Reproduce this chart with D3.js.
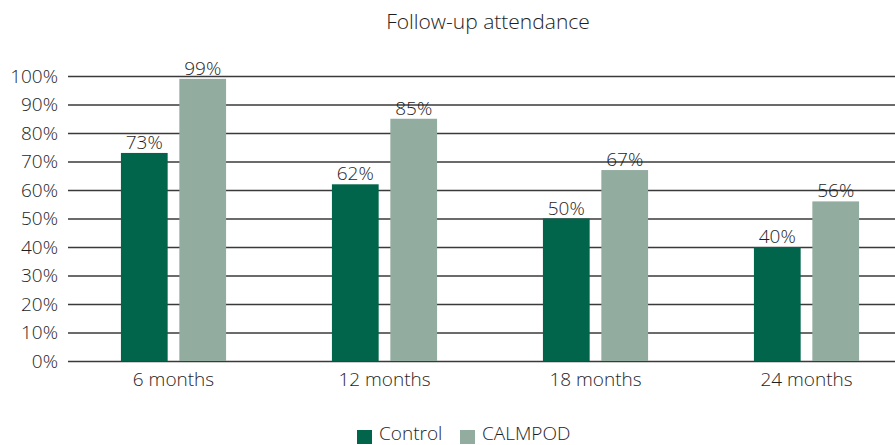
<!DOCTYPE html>
<html><head><meta charset="utf-8">
<script src="https://cdn.jsdelivr.net/npm/d3@7"></script>
<style>body{margin:0;background:#fff;} text{font-family:"Open Sans",sans-serif;font-weight:300;fill:#1e1e1e;}</style>
</head><body><svg id="c" width="895" height="445"></svg>
<script>
const categories = ["6 months","12 months","18 months","24 months"];
const seriesNames = ["Control","CALMPOD"];
const control = [73,62,50,40];
const calmpod = [99,85,67,56];
const yTicks = [0,10,20,30,40,50,60,70,80,90,100];
const colors = ["#00654a","#92ada0"];

const FS = "19px";
const svg = d3.select("#c");
const mLeft = 68, mRight = 912, mTop = 76, mBottom = 361;
const x = d3.scaleBand().domain(categories).range([mLeft,mRight]).paddingInner(0).paddingOuter(0);
const y = d3.scaleLinear().domain([0,100]).range([mBottom,mTop]);
const xs = d3.scaleBand().domain(seriesNames).range([0,x.bandwidth()]).paddingInner(0.2).paddingOuter(0.906);

svg.append("text").attr("x",488).attr("y",29).attr("text-anchor","middle").style("font-size","21px").text("Follow-up attendance");

const yAxis = svg.append("g").attr("transform",`translate(${mLeft},0)`)
  .call(d3.axisLeft(y).tickValues(yTicks).tickFormat(d=>d+"%").tickSize(-(895-mLeft)).tickPadding(10));
yAxis.select(".domain").remove();
yAxis.selectAll(".tick line").attr("stroke","#3a3a3a").attr("stroke-width",1.4);
yAxis.selectAll(".tick text").style("font-size",FS);

const data = categories.map((c,i)=>({c, vals:[control[i],calmpod[i]]}));
const g = svg.append("g");
data.forEach(d=>{
  d.vals.forEach((v,j)=>{
    const bx = x(d.c)+xs(seriesNames[j]);
    g.append("rect").attr("x",bx).attr("y",y(v)).attr("width",xs.bandwidth()).attr("height",y(0)-y(v)).attr("fill",colors[j]);
    g.append("text").attr("x",bx+xs.bandwidth()/2).attr("y",y(v)-4).attr("text-anchor","middle").style("font-size",FS).text(v+"%");
  });
});

const xAxis = svg.append("g").attr("transform",`translate(0,${mBottom})`)
  .call(d3.axisBottom(x).tickSize(0).tickPadding(12));
xAxis.select(".domain").remove();
xAxis.selectAll(".tick text").style("font-size",FS);

const leg = svg.append("g");
const lx = [357,460];
seriesNames.forEach((s,j)=>{
  leg.append("rect").attr("x",lx[j]).attr("y",430).attr("width",15).attr("height",14).attr("fill",colors[j]);
  leg.append("text").attr("x",lx[j]+22).attr("y",440).style("font-size",FS).text(s);
});
</script></body></html>
